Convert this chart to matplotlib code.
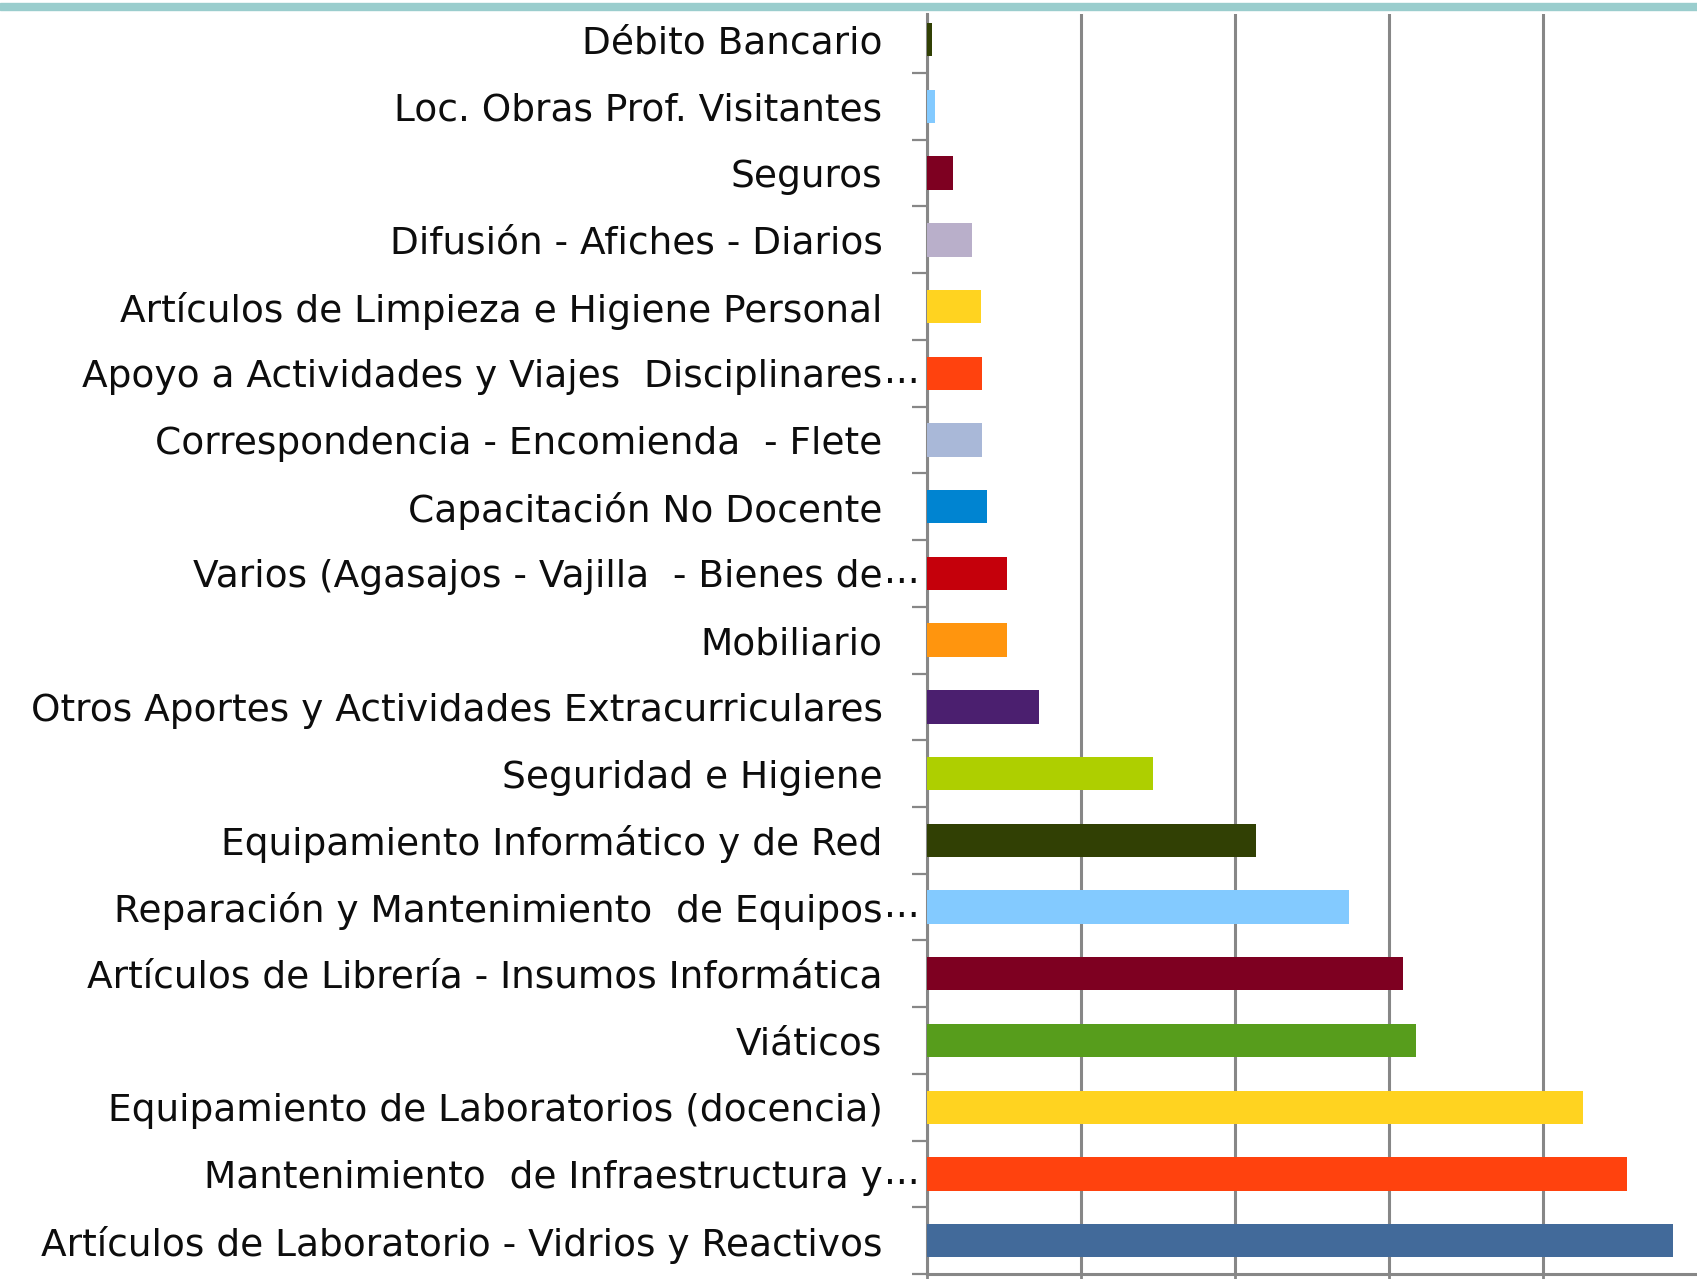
import matplotlib.pyplot as plt
from matplotlib.patches import Rectangle
import numpy as np

# categories listed top to bottom, as in the chart
categorias = [
    'Débito Bancario',
    'Loc. Obras Prof. Visitantes',
    'Seguros',
    'Difusión - Afiches - Diarios',
    'Artículos de Limpieza e Higiene Personal',
    'Apoyo a Actividades y Viajes  Disciplinares',
    'Correspondencia - Encomienda  - Flete',
    'Capacitación No Docente',
    'Varios (Agasajos - Vajilla  - Bienes de',
    'Mobiliario',
    'Otros Aportes y Actividades Extracurriculares',
    'Seguridad e Higiene',
    'Equipamiento Informático y de Red',
    'Reparación y Mantenimiento  de Equipos',
    'Artículos de Librería - Insumos Informática',
    'Viáticos',
    'Equipamiento de Laboratorios (docencia)',
    'Mantenimiento  de Infraestructura y',
    'Artículos de Laboratorio - Vidrios y Reactivos',
]
recortadas = [
    'Apoyo a Actividades y Viajes  Disciplinares',
    'Varios (Agasajos - Vajilla  - Bienes de',
    'Reparación y Mantenimiento  de Equipos',
    'Mantenimiento  de Infraestructura y',
]
# values in gridline units (axis has no visible tick labels)
valores = [0.03, 0.05, 0.17, 0.29, 0.35, 0.36, 0.36, 0.39, 0.52, 0.52,
           0.73, 1.47, 2.14, 2.74, 3.09, 3.18, 4.26, 4.55, 4.85]
colores = ['#314004', '#83caff', '#7e0021', '#b9afca', '#ffd320', '#ff420e',
           '#a9b8d8', '#0084d1', '#c5000b', '#ff950e', '#4b1f6f', '#aecf00',
           '#314004', '#83caff', '#7e0021', '#579d1c', '#ffd320', '#ff420e',
           '#426a9a']

W, H = 1697, 1279
fig = plt.figure(figsize=(W / 100, H / 100), dpi=100)

x0, x1 = 927, 1697
y_bot, y_top = 1274, 14
ax = fig.add_axes([x0 / W, (H - y_bot) / H, (x1 - x0) / W, (y_bot - y_top) / H])

n = len(categorias)
pos = np.arange(n)[::-1]
ax.barh(pos, valores, height=0.5, color=colores, zorder=3)

unit_px = 153.9
ax.set_xlim(0, (x1 - x0) / unit_px)
row_px = (y_bot - 6.3) / n
ax.set_ylim(-0.5, -0.5 + (y_bot - y_top) / row_px)

gris = '#878787'
for s in ['top', 'right']:
    ax.spines[s].set_visible(False)
for s in ['left', 'bottom']:
    ax.spines[s].set_color(gris)
    ax.spines[s].set_linewidth(2.2)

ax.set_xticks([0, 1, 2, 3, 4])
ax.set_xticklabels([])
ax.grid(axis='x', color=gris, linewidth=2.2, zorder=0)
ax.tick_params(axis='x', length=11, width=2, color=gris)

fuente = dict(fontsize=27, family='DejaVu Sans', color='#0d0d0d')

ax.set_yticks(np.arange(n) - 0.5)
ax.set_yticklabels([])
ax.tick_params(axis='y', which='major', length=11, width=1.6, color=gris)
ax.set_yticks(pos, minor=True)
ax.set_yticklabels(categorias, minor=True, **fuente)
ax.tick_params(axis='y', which='minor', length=0, pad=32)

for cat, p in zip(categorias, pos):
    if cat in recortadas:
        ax.annotate('...', xy=(0, p), xycoords=('axes fraction', 'data'),
                    xytext=(-31, 0), textcoords='offset points',
                    ha='left', va='center', **fuente)

fig.add_artist(Rectangle((0, 1 - 10 / H), 1, 7 / H, transform=fig.transFigure,
                         color='#9acdcd', zorder=5))

plt.savefig('out.png', dpi=100)
